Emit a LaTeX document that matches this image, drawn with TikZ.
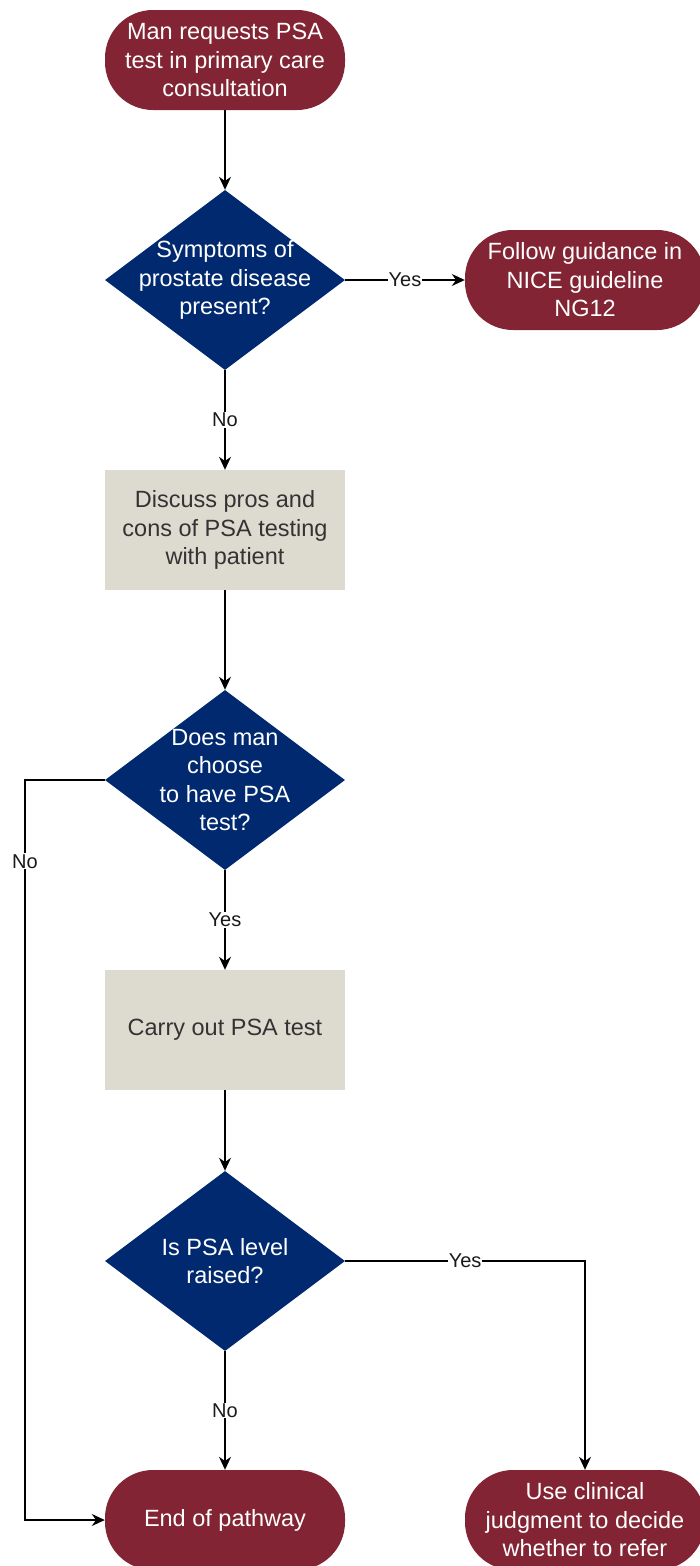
\documentclass[tikz,border=0pt]{standalone}
\usepackage{fontspec}
\setmainfont{Liberation Sans}
\usetikzlibrary{shapes.geometric,arrows.meta}
\definecolor{maroon}{HTML}{822433}
\definecolor{navy}{HTML}{00296F}
\definecolor{boxgray}{HTML}{DDDBD0}
\begin{document}
\begin{tikzpicture}[x=1pt,y=-1pt,
  mainfont/.style={font=\fontsize{23.5}{28.5}\selectfont},
  term/.style={fill=maroon, draw=none, rounded corners=48pt, minimum width=240pt, minimum height=100pt, text=white, align=center, mainfont, inner sep=0pt},
  dia/.style={diamond, fill=navy, draw=none, minimum width=240pt, minimum height=180pt, aspect=1.333, inner sep=0pt},
  dtext/.style={text=white, align=center, mainfont, inner sep=0pt},
  proc/.style={rectangle, fill=boxgray, draw=none, minimum width=240pt, minimum height=120pt, align=center, text=black!80, mainfont, inner sep=0pt},
  conn/.style={draw=black, line width=1.4pt, -{Stealth[length=13pt,width=12pt]}},
  lbl/.style={fill=white, inner sep=1pt, font=\fontsize{20}{22}\selectfont, text=black!90}
]
\useasboundingbox (0,0) rectangle (699,1566);

\node[term] (t1) at (225,60) {Man requests PSA\\test in primary care\\consultation};
\node[dia] (d1) at (225,280) {};
\node[dtext] (d1t) at (d1) {Symptoms of\\prostate disease\\present?};
\node[term] (t2) at (585,280) {Follow guidance in\\NICE guideline\\NG12};
\node[proc] (p1) at (225,530) {Discuss pros and\\cons of PSA testing\\with patient};
\node[dia] (d2) at (225,780) {};
\node[dtext] (d2t) at (d2) {Does man\\choose\\to have PSA\\test?};
\node[proc] (p2) at (225,1030) {Carry out PSA test};
\node[dia] (d3) at (225,1261) {};
\node[dtext] (d3t) at (d3) {Is PSA level\\raised?};
\node[term] (t3) at (225,1520) {End of pathway};
\node[term] (t4) at (585,1520) {Use clinical\\judgment to decide\\whether to refer};

\coordinate (nl) at (25,780);
\coordinate (nb) at (25,1520);

\draw[conn] (t1) -- (d1);
\draw[conn] (d1.east) -- node[lbl]{Yes} (t2.west);
\draw[conn] (d1.south) -- node[lbl]{No} (p1.north);
\draw[conn] (p1) -- (d2);
\draw[conn] (d2.south) -- node[lbl]{Yes} (p2.north);
\draw[conn] (d2.west) -- (nl) -- node[lbl,pos=0.11]{No} (nb) -- (t3.west);
\draw[conn] (p2) -- (d3);
\draw[conn] (d3.east) -| node[lbl,pos=0.25]{Yes} (t4.north);
\draw[conn] (d3.south) -- node[lbl]{No} (t3.north);
\end{tikzpicture}
\end{document}
